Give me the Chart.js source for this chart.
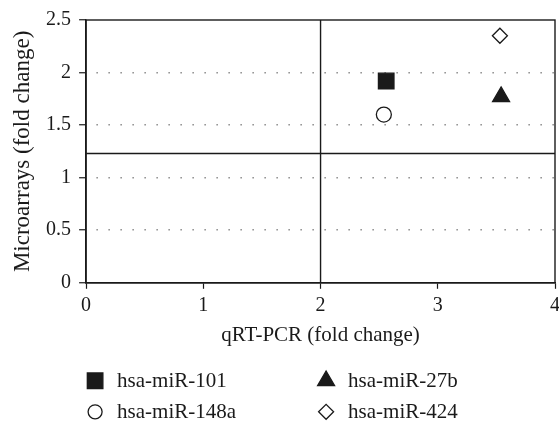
<!DOCTYPE html>
<html>
<head>
<meta charset="utf-8">
<script src="https://cdn.jsdelivr.net/npm/chart.js@4"></script>
<style>
  html, body { margin: 0; padding: 0; background: #fff; }
  #wrap { width: 559px; height: 421px; }
</style>
</head>
<body>
<div id="wrap"><canvas id="chart" width="559" height="421"></canvas></div>
<script>
// miRNA fold changes, qRT-PCR vs microarrays
const mirNames = ['hsa-miR-101', 'hsa-miR-148a', 'hsa-miR-27b', 'hsa-miR-424'];
const qrtPcr = [2.56, 2.54, 3.54, 3.53];
const microarray = [1.92, 1.60, 1.77, 2.35];
const markerStyle = ['rect', 'circle', 'triangle', 'rectRot'];
const markerFill = ['#1a1a1a', '#ffffff', '#1a1a1a', '#ffffff'];
const markerRadius = [11, 7.5, 9.8, 7.5];

// threshold lines
const xCut = 2;
const yCut = 1.23;
const xTicks = [0, 1, 2, 3, 4];
const yTicks = [0, 0.5, 1, 1.5, 2, 2.5];

const FONT = "'Liberation Serif', 'DejaVu Serif', serif";
const INK = '#1a1a1a';

const datasets = mirNames.map((name, i) => ({
    type: 'scatter',
    label: name,
    data: [{x: qrtPcr[i], y: microarray[i]}],
    pointStyle: markerStyle[i],
    pointRadius: markerRadius[i],
    pointHoverRadius: markerRadius[i],
    backgroundColor: markerFill[i],
    borderColor: INK,
    borderWidth: 1.3
}));

datasets.push({
    type: 'line', label: '_v',
    data: [{x: xCut, y: yTicks[0]}, {x: xCut, y: yTicks[yTicks.length - 1]}],
    borderColor: INK, borderWidth: 1.4, pointRadius: 0
});
datasets.push({
    type: 'line', label: '_h',
    data: [{x: xTicks[0], y: yCut}, {x: xTicks[xTicks.length - 1], y: yCut}],
    borderColor: INK, borderWidth: 1.4, pointRadius: 0
});

// box around plot + two-column legend under the axis title
const frameAndLegend = {
    id: 'frameAndLegend',
    afterDatasetsDraw(chart) {
        const {ctx, chartArea} = chart;
        ctx.save();
        ctx.strokeStyle = INK;
        ctx.lineWidth = 1.4;
        ctx.strokeRect(chartArea.left, chartArea.top, chartArea.right - chartArea.left, chartArea.bottom - chartArea.top);

        const cols = [chartArea.left + 9, chartArea.left + 240];
        const rows = [chartArea.bottom + 98, chartArea.bottom + 129];
        const order = [[0, 0, 0], [2, 1, 0], [1, 0, 1], [3, 1, 1]];
        ctx.font = "21px " + FONT;
        ctx.textBaseline = 'middle';
        order.forEach(([i, c, r]) => {
            const ds = chart.data.datasets[i];
            const x = cols[c], y = rows[r];
            ctx.fillStyle = ds.backgroundColor;
            ctx.strokeStyle = INK;
            ctx.lineWidth = 1.3;
            Chart.helpers.drawPoint(ctx, {
                pointStyle: ds.pointStyle,
                radius: ds.pointStyle === 'circle' ? 7 : ds.pointRadius,
                rotation: 0,
                borderWidth: 1.3
            }, x, y);
            ctx.fillStyle = INK;
            ctx.fillText(ds.label, x + 22, y + 1);
        });
        ctx.restore();
    }
};

new Chart(document.getElementById('chart'), {
    type: 'scatter',
    data: {datasets},
    options: {
        responsive: false,
        animation: false,
        layout: {autoPadding: false, padding: {top: 20, right: 4, bottom: 73, left: 9}},
        plugins: {
            legend: {display: false},
            tooltip: {enabled: false}
        },
        scales: {
            x: {
                type: 'linear',
                min: 0, max: 4,
                afterBuildTicks: (axis) => { axis.ticks = xTicks.map(v => ({value: v})); },
                afterFit: (axis) => { axis.paddingRight = 0; },
                border: {display: true, color: INK, width: 1.4},
                grid: {drawOnChartArea: false, drawTicks: true, tickLength: 6, tickColor: INK, tickWidth: 1.2},
                ticks: {color: INK, font: {family: FONT, size: 20}, padding: 5, callback: (v) => String(v)},
                title: {display: true, text: 'qRT-PCR (fold change)', color: INK, font: {family: FONT, size: 21}, padding: {top: 0, bottom: 0}}
            },
            y: {
                type: 'linear',
                min: 0, max: 2.5,
                afterBuildTicks: (axis) => { axis.ticks = yTicks.map(v => ({value: v})); },
                border: {display: true, color: INK, width: 1.4, dash: [1.5, 10.5], dashOffset: -10},
                grid: {
                    color: (c) => (c.tick && (c.tick.value === 0 || c.tick.value === 2.5)) ? 'rgba(0,0,0,0)' : '#8c8c8c',
                    lineWidth: 1.5,
                    drawTicks: true, tickLength: 7, tickColor: INK, tickWidth: 1.2
                },
                ticks: {color: INK, font: {family: FONT, size: 20}, padding: 8, callback: (v) => String(v)},
                title: {display: true, text: 'Microarrays (fold change)', color: INK, font: {family: FONT, size: 23}, padding: {top: 0, bottom: 1.5}}
            }
        }
    },
    plugins: [frameAndLegend]
});
</script>
</body>
</html>
